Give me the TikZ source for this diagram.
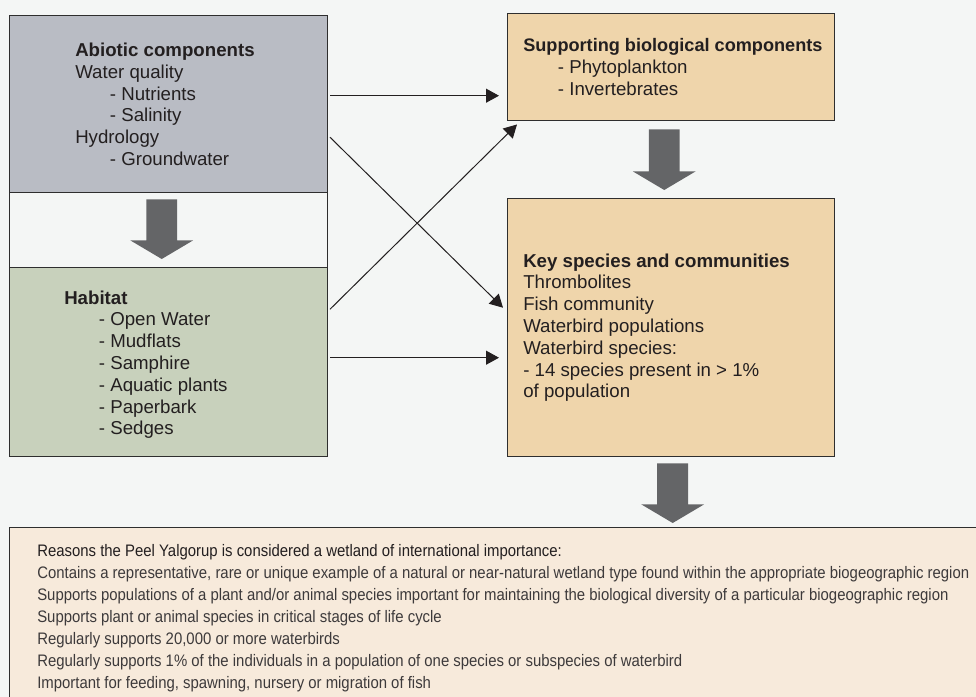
\documentclass[tikz,border=0pt]{standalone}
\usepackage{fontspec}
\setmainfont{Liberation Sans}
\newfontfamily\narrowfont[FakeStretch=0.895]{Liberation Sans}
\usetikzlibrary{calc,arrows.meta}

\definecolor{bgcol}{HTML}{F4F6F5}
\definecolor{edgecol}{HTML}{2E2E2E}
\definecolor{inkcol}{HTML}{231F20}
\definecolor{abiofill}{HTML}{B9BCC4}
\definecolor{habfill}{HTML}{C8D1BC}
\definecolor{biofill}{HTML}{EFD5AB}
\definecolor{reasonfill}{HTML}{F7EADB}
\definecolor{fatgray}{HTML}{646567}

\newcommand{\dashitem}{\hspace*{26pt}- }

\tikzset{
  box/.style={draw=edgecol, line width=1.1pt, anchor=north west, inner sep=0pt},
  boxtext/.style={anchor=west, align=left, inner sep=0pt, text=inkcol,
    font=\fontsize{14}{16.35}\selectfont},
  reasontext/.style={anchor=north west, align=left, inner sep=0pt, text=inkcol!88,
    font=\narrowfont\fontsize{12.5}{16.5}\selectfont},
  link/.style={draw=inkcol, line width=0.75pt, -{Triangle[length=9.75pt,width=10.5pt]},
    shorten <=1.5pt},
  fat/.style={fill=fatgray, to path={let \p1=(\tikztostart), \p2=(\tikztotarget) in
    (\x1-11.6pt,\y1) -- (\x1+11.6pt,\y1) -- (\x1+11.6pt,\y2+14pt) -- (\x1+23.6pt,\y2+14pt)
    -- (\x1,\y2) -- (\x1-23.6pt,\y2+14pt) -- (\x1-11.6pt,\y2+14pt) -- cycle}}
}

\begin{document}
\begin{tikzpicture}[x=0.75pt,y=-0.75pt]
  \fill[bgcol] (0,0) rectangle (976,697);
  \useasboundingbox (0,0) rectangle (976,697);
  \clip (0,0) rectangle (976,697);

  \node[box, minimum width=238.5pt, minimum height=330.75pt] (frame) at (9,15) {};
  \node[box, fill=abiofill, minimum width=238.5pt, minimum height=132.75pt] (abio) at (9,15) {};
  \node[box, fill=habfill, minimum width=238.5pt, minimum height=141.75pt] (hab) at (9,267) {};
  \node[box, fill=biofill, minimum width=245.25pt, minimum height=80.25pt] (supp) at (507,13) {};
  \node[box, fill=biofill, minimum width=245.25pt, minimum height=193.5pt] (key) at (507,198) {};
  \node[box, fill=reasonfill, minimum width=760pt, minimum height=150pt] (reasons) at (9,527) {};

  \node[boxtext] (abiotext) at ([xshift=49.5pt]abio.west)
    {\textbf{Abiotic components}\\Water quality\\\dashitem Nutrients\\\dashitem Salinity\\
     Hydrology\\\dashitem Groundwater};
  \node[boxtext] (habtext) at ([xshift=41.25pt,yshift=-1.9pt]hab.west)
    {\textbf{Habitat}\\\dashitem Open Water\\\dashitem Mudflats\\\dashitem Samphire\\
     \dashitem Aquatic plants\\\dashitem Paperbark\\\dashitem Sedges};
  \node[boxtext] (supptext) at ([xshift=12pt]supp.west)
    {\textbf{\fontsize{13.6}{16.35}\selectfont Supporting biological components}\\\dashitem Phytoplankton\\\dashitem Invertebrates};
  \node[boxtext] (keytext) at ([xshift=12pt]key.west)
    {\textbf{Key species and communities}\\Thrombolites\\Fish community\\Waterbird populations\\
     Waterbird species:\\- 14 species present in > 1\%\\of population};
  \node[reasontext] (reasontext) at ([xshift=21pt,yshift=-12.75pt]reasons.north west)
    {\textcolor{inkcol}{Reasons the Peel Yalgorup is considered a wetland of international importance:}\\
     Contains a representative, rare or unique example of a natural or near-natural wetland type found within the appropriate biogeographic region\\
     Supports populations of a plant and/or animal species important for maintaining the biological diversity of a particular biogeographic region\\
     Supports plant or animal species in critical stages of life cycle\\
     Regularly supports 20,000 or more waterbirds\\
     Regularly supports 1\% of the individuals in a population of one species or subspecies of waterbird\\
     Important for feeding, spawning, nursery or migration of fish};

  \draw[link, shorten >=6pt] ([yshift=6.4pt]abio.east) -- ([yshift=6.4pt]abio.east -| supp.west);
  \draw[link] ([yshift=-23.6pt]abio.east) -- ([xshift=-3pt,yshift=15pt]key.west);
  \draw[link] ([yshift=38.6pt]hab.east) -- ([xshift=7.5pt,yshift=-2.25pt]supp.south west);
  \draw[link, shorten >=6pt] ([yshift=3.4pt]hab.east) -- ([yshift=3.4pt]hab.east -| key.west);

  \coordinate (fatend) at (key.south |- reasons.north);
  \path[fat] ([xshift=-5.25pt,yshift=-4.5pt]abio.south) to ([xshift=-5.25pt,yshift=6pt]hab.north);
  \path[fat] ([xshift=-5.25pt,yshift=-6pt]supp.south) to ([xshift=-5.25pt,yshift=6pt]key.north);
  \path[fat] ([xshift=1.1pt,yshift=-4.5pt]key.south) to ([xshift=1.1pt,yshift=3pt]fatend);
\end{tikzpicture}
\end{document}
